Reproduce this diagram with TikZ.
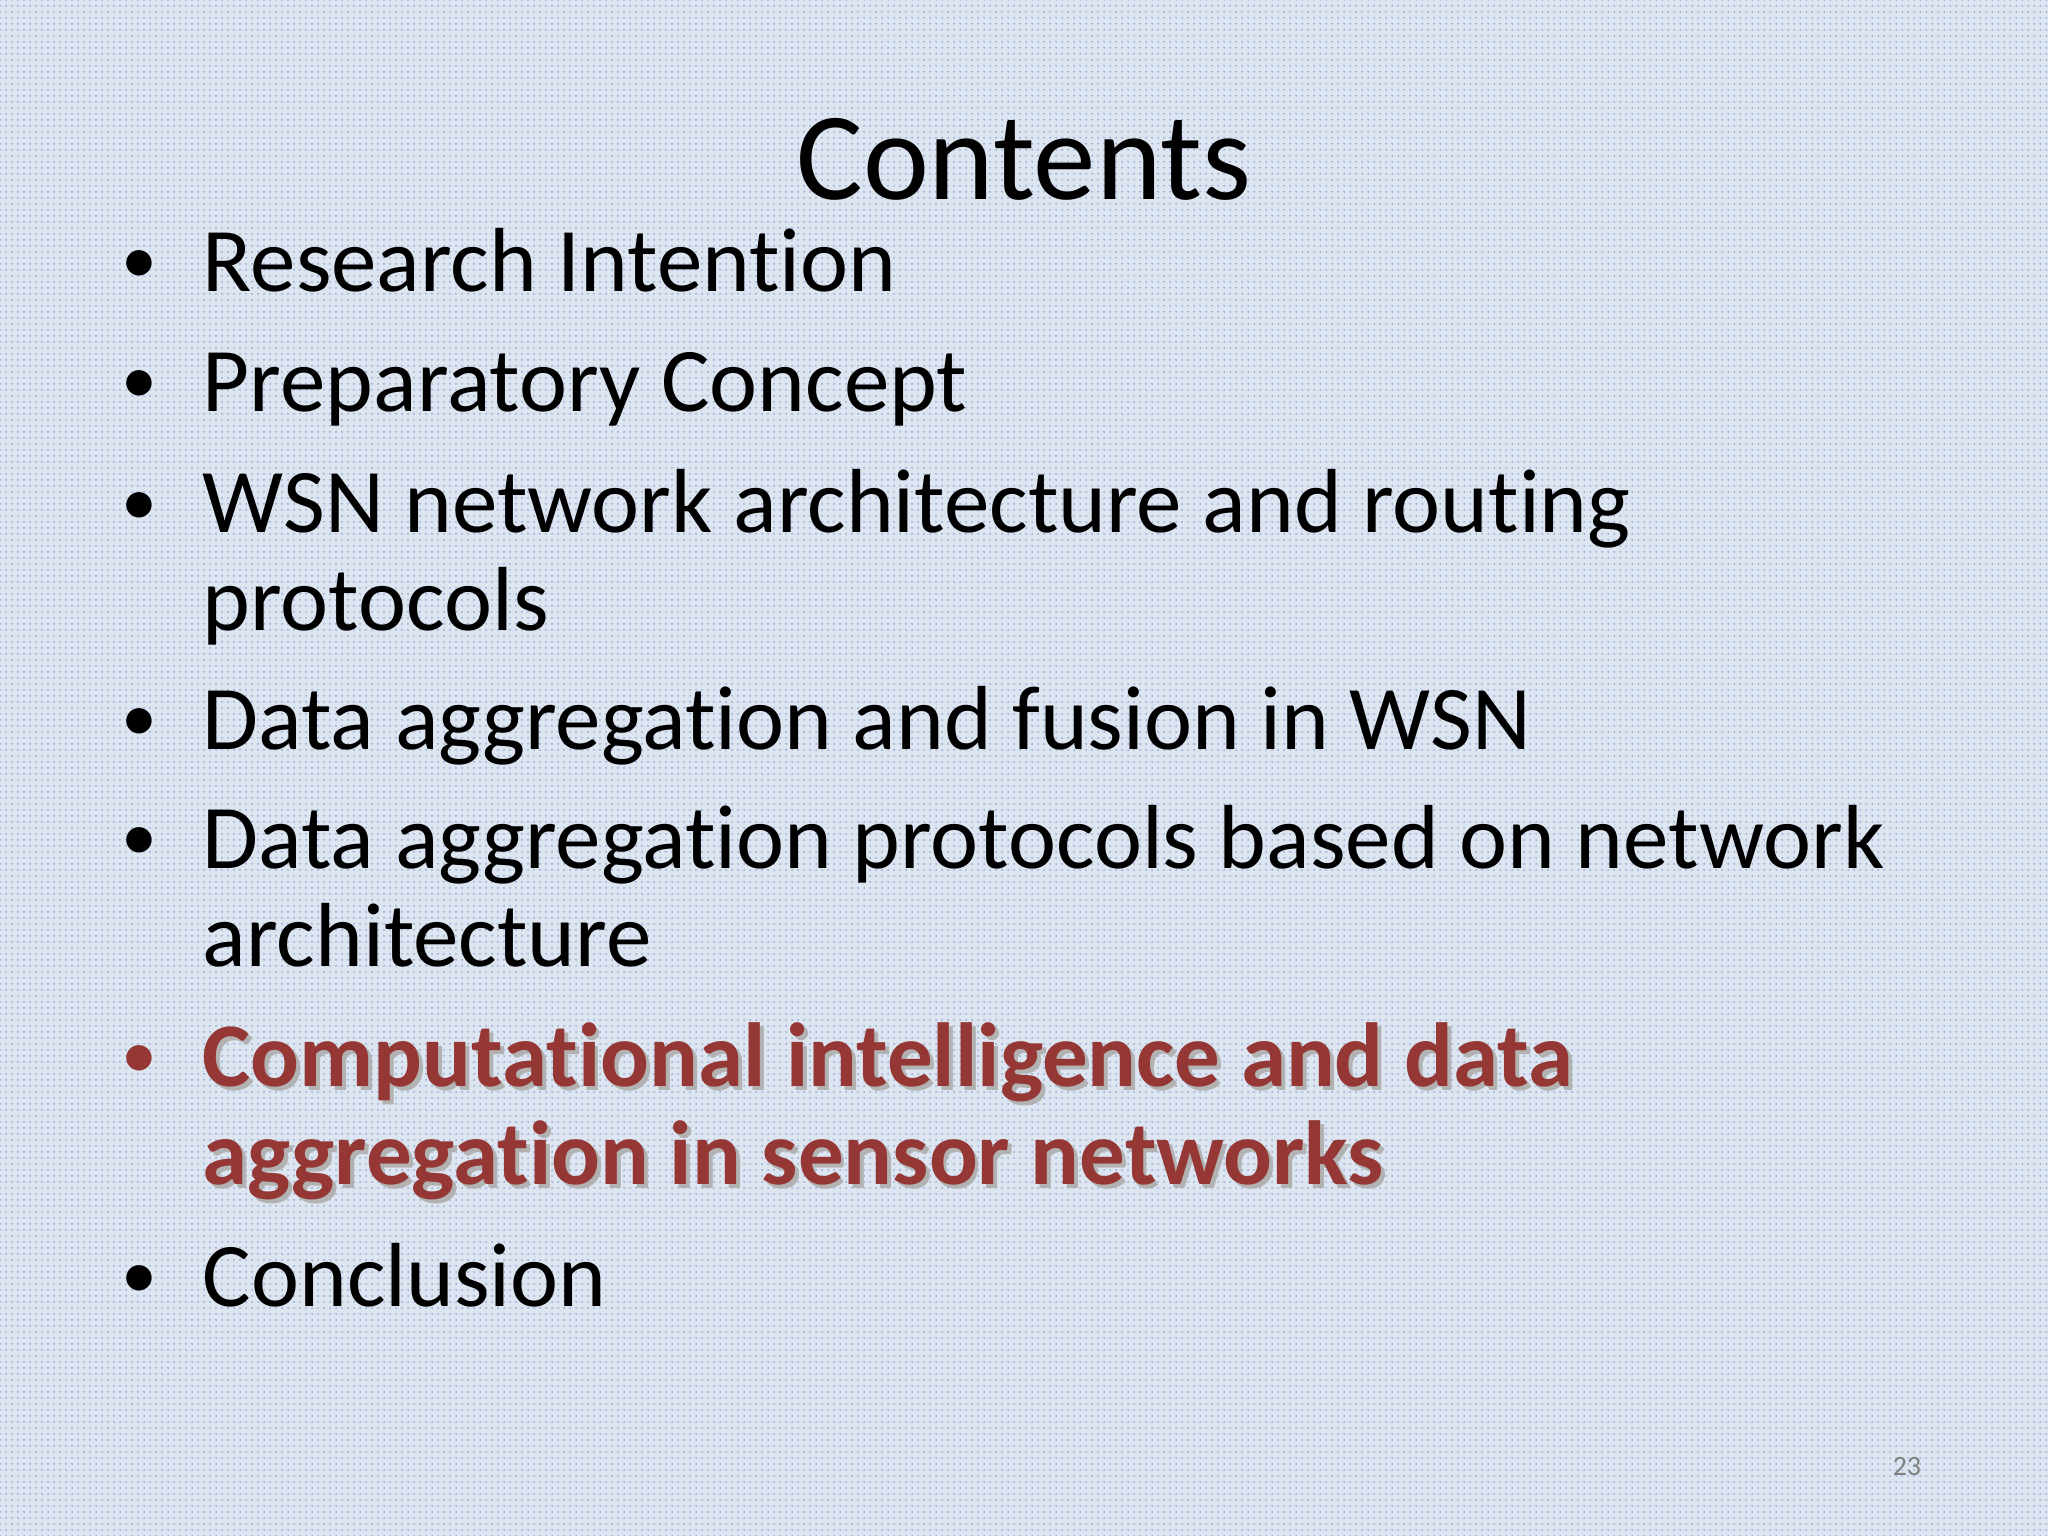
\documentclass[tikz,border=0pt]{standalone}
\usepackage{fontspec}
\setmainfont{Carlito}[Ligatures=NoCommon]
\usetikzlibrary{patterns}
\definecolor{hl}{HTML}{953735}
\definecolor{bgc}{HTML}{DDE5F0}
\definecolor{dotc}{HTML}{4A72B8}
\begin{document}
\begin{tikzpicture}[x=0.653pt,y=-0.653pt,
  txt/.style={anchor=base west,inner sep=0pt,font=\fontsize{45.5}{54}\selectfont},
  bul/.style={anchor=base,inner sep=0pt,font=\fontsize{36}{40}\selectfont}]
\fill[bgc] (0,0) rectangle (1568,1176);
\fill[pattern=dots,pattern color=dotc!60!white] (0,0) rectangle (1568,1176);
\useasboundingbox (0,0) rectangle (1568,1176);
\node[anchor=base,inner sep=0pt,font=\fontsize{62.5}{70}\selectfont] (title) at (784,153) {Contents};
\foreach \y/\t [count=\i] in {223/Research Intention,315/Preparatory Concept,408/WSN network architecture and routing,574/Data aggregation and fusion in WSN,665/Data aggregation protocols based on network,1000/Conclusion}{
  \node[bul] (b\i) at (107,\y-6) {•};
  \node[txt] (t\i) at (155,\y) {\t};
}
\node[txt] (t3b) at (155,483) {protocols};
\node[txt] (t5b) at (155,740) {architecture};
\foreach \y/\t/\n in {832/Computational intelligence and data/c1,907/aggregation in sensor networks/c2}{
  \node[txt,font=\fontsize{45.5}{54}\selectfont\bfseries,text=black!30] at (158,\y+3) {\t};
  \node[txt,font=\fontsize{45.5}{54}\selectfont\bfseries,text=hl] (\n) at (155,\y) {\t};
}
\node[bul,text=hl] (bc) at (107,826) {•};
\node[anchor=base,inner sep=0pt,font=\fontsize{14}{16}\selectfont,text=gray] (pn) at (1460,1130) {23};
\end{tikzpicture}
\end{document}
